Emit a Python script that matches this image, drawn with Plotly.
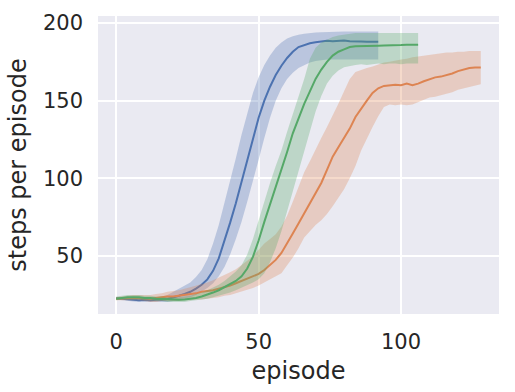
import plotly.graph_objects as go

# episodes for each run (every 2nd episode)
ep_blue = list(range(0, 93, 2))
ep_green = list(range(0, 107, 2))
ep_orange = list(range(0, 129, 2))

blue_mean = [22.9, 22.5, 22, 21.8, 21.5, 21.8, 21.5, 21.8, 21.8, 22.3,
             23.2, 24.4, 25.6, 27, 29, 31.5, 35, 40.5, 48.5, 59.5,
             71.5, 84, 97.5, 112, 126, 139, 150, 159, 166.5, 172.5,
             177.5, 181.5, 184.5, 186, 187, 187.6, 188, 188.5, 188.3, 188.5,
             188.8, 188.3, 188.4, 188.1, 188, 187.9, 187.9]
blue_hi = [23.5, 23.5, 23, 23, 23, 23, 23, 23.5, 24, 25,
           27, 29, 31, 33, 36.5, 41, 48, 58, 70, 84,
           98, 113, 128, 142, 155, 165, 173, 179, 184, 187.5,
           190, 191.5, 192.5, 193, 193.5, 193.8, 194, 194.2, 194.3, 194.3,
           194.5, 194.5, 194.5, 194.5, 194.5, 194.5, 194.5]
blue_lo = [22, 21.5, 21, 20.8, 20.5, 20.5, 20.3, 20.5, 20.5, 20.5,
           21, 21.5, 22.5, 23.5, 25, 27, 29.5, 32.5, 37, 43,
           51, 61, 72, 85, 98, 112, 126, 139, 150, 158,
           164, 168, 171, 173, 174.5, 175.5, 176, 176.5, 176.5, 176.5,
           176.5, 176.5, 176.5, 176.5, 176.5, 176.5, 176.5]

green_mean = [22.5, 23, 23.5, 23.5, 23.5, 23, 23, 22.5, 22.3, 22,
              21.8, 21.8, 22, 22.5, 23, 24, 25, 26.5, 28, 30,
              31.5, 34, 37, 42, 49.5, 60, 72, 83, 94, 105,
              117, 129, 139, 148, 156, 164, 170, 175, 179, 181.5,
              183, 184.5, 185, 185, 185.2, 185.3, 185.4, 185.5, 185.5, 185.7,
              185.8, 186, 186, 186]
green_hi = [24, 24.5, 25, 25, 25, 24.5, 24.5, 24, 24, 23.5,
            23.5, 23.5, 24, 24.5, 25.5, 26.5, 28, 29.5, 31.5, 34,
            37, 40, 44, 51, 61, 73, 86, 97, 108, 118,
            130, 141, 152, 164, 177, 184, 187.5, 189.5, 191, 192,
            192.5, 193, 193.5, 193.5, 193.5, 193.5, 193.5, 193.5, 193.5, 193.5,
            193.5, 193.5, 193.5, 193.5]
green_lo = [21.5, 22, 22, 22, 22, 21.5, 21.5, 21, 21, 20.5,
            20.5, 20.5, 20.5, 21, 21.5, 22, 22.5, 23.5, 24.5, 25.5,
            26.5, 28, 29.5, 31, 33, 35, 39, 46, 55, 66,
            79, 92, 105, 118, 131, 143, 153, 161, 166, 169.5,
            171.5, 172.5, 173, 173.5, 173, 173.5, 174, 173.5, 174, 174,
            173.5, 174, 174, 174]

orange_mean = [22.5, 22.8, 23, 23.2, 23, 22.8, 22.5, 23, 23.5, 24,
               24, 24.5, 25, 25.5, 26, 27, 27.5, 28, 29, 30,
               31, 32.5, 34, 35.5, 37, 38.5, 41, 44, 47.5, 52,
               58, 64.5, 71, 77.5, 84.5, 91, 97, 105.5, 114, 120,
               126, 132, 139.5, 145, 150, 155, 158, 159.5, 160, 160.3,
               160, 161, 160, 161, 162.5, 164, 165, 165.5, 166.5, 167.5,
               169, 170, 171, 171.3, 171.4]
orange_hi = [23.5, 24, 24.5, 25, 25, 25, 25, 25.5, 26, 27,
             27.5, 28, 29, 30, 31, 32, 33, 34.5, 36, 37.5,
             39.5, 41.5, 44, 47, 50, 54, 58, 61, 64, 69,
             76, 85, 95, 104, 111, 119, 126, 133, 140, 148,
             156, 164, 168.5, 170, 171, 172, 173.5, 174.5, 175, 176,
             176.5, 177, 178, 178.5, 179, 179.5, 180, 180.5, 181, 181,
             181.5, 181.5, 182, 182, 182]
orange_lo = [21.5, 21.5, 21.5, 21.5, 21.5, 21, 20.5, 20.5, 21, 21,
             21, 21, 21.5, 21.5, 22, 22, 22.5, 23, 23.5, 24.5,
             25, 26, 27, 28, 29.5, 31, 33, 35, 37, 39,
             44, 49, 55, 62, 66, 70, 73, 77, 82, 87.5,
             93, 100, 108, 118, 126, 133, 140, 146, 147.5, 147,
             147.5, 147, 147.5, 149, 151, 152, 152.5, 153.5, 154.5, 155.5,
             157, 158, 159, 160, 160.5]

runs = [
    (ep_blue, blue_mean, blue_hi, blue_lo, (76, 114, 176)),
    (ep_orange, orange_mean, orange_hi, orange_lo, (221, 132, 82)),
    (ep_green, green_mean, green_hi, green_lo, (85, 168, 104)),
]

fig = go.Figure()
for ep, mean, hi, lo, rgb in runs:
    r, g, b = rgb
    fig.add_trace(go.Scatter(x=ep, y=hi, mode="lines", line=dict(width=0),
                             showlegend=False, hoverinfo="skip"))
    fig.add_trace(go.Scatter(x=ep, y=lo, mode="lines", line=dict(width=0),
                             fill="tonexty", fillcolor=f"rgba({r},{g},{b},0.3)",
                             showlegend=False, hoverinfo="skip"))
    fig.add_trace(go.Scatter(x=ep, y=mean, mode="lines",
                             line=dict(color=f"rgb({r},{g},{b})", width=2),
                             showlegend=False))

fig.update_layout(
    width=515, height=392,
    margin=dict(l=98, r=16, t=16, b=78),
    paper_bgcolor="white",
    plot_bgcolor="#EAEAF2",
    font=dict(family="DejaVu Sans", size=21, color="#262626"),
    showlegend=False,
)
fig.update_xaxes(
    range=[-6.4, 134.4], tickvals=[0, 50, 100], automargin=False,
    showgrid=True, gridcolor="white", gridwidth=1.5, zeroline=False,
    showline=False, ticks="", ticklabelstandoff=13,
    title=dict(text="episode", font=dict(size=24), standoff=9),
)
fig.update_yaxes(
    range=[12.7, 204.5], tickvals=[50, 100, 150, 200], automargin=False,
    showgrid=True, gridcolor="white", gridwidth=1.5, zeroline=False,
    showline=False, ticks="", ticklabelstandoff=14,
    title=dict(text="steps per episode", font=dict(size=24), standoff=9),
)

# the browser's default 8px body margin shifts the figure; drop it
fig.write_html("out.html", config={"displayModeBar": False},
               post_script="document.body.style.margin='0';")
